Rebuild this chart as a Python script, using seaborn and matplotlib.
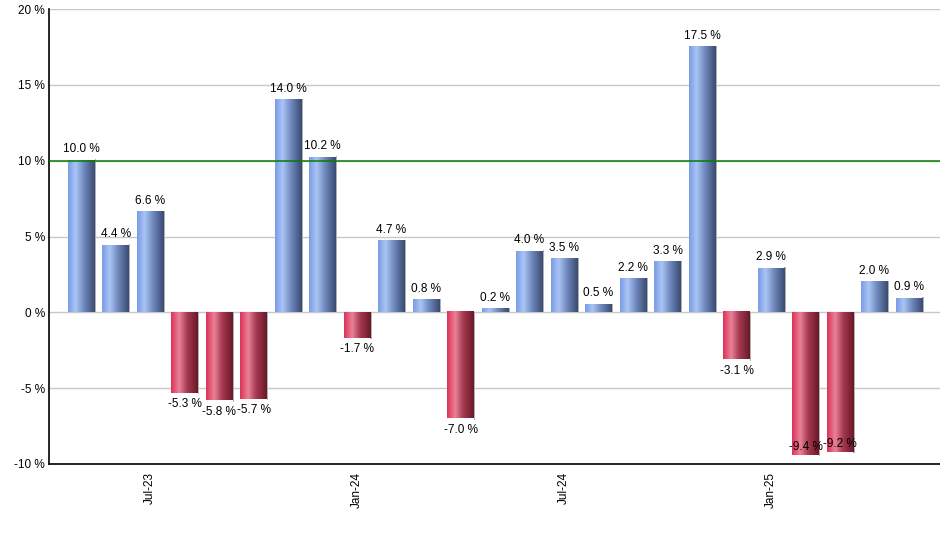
import numpy as np
import pandas as pd
import matplotlib
matplotlib.use("Agg")
import matplotlib.pyplot as plt
import seaborn as sns
from matplotlib.colors import LinearSegmentedColormap

months = ["May-23", "Jun-23", "Jul-23", "Aug-23", "Sep-23", "Oct-23", "Nov-23", "Dec-23",
          "Jan-24", "Feb-24", "Mar-24", "Apr-24", "May-24", "Jun-24", "Jul-24", "Aug-24",
          "Sep-24", "Oct-24", "Nov-24", "Dec-24", "Jan-25", "Feb-25", "Mar-25", "Apr-25",
          "May-25"]
returns = [10.0, 4.4, 6.6, -5.3, -5.8, -5.7, 14.0, 10.2, -1.7, 4.7, 0.8, -7.0, 0.2,
           4.0, 3.5, 0.5, 2.2, 3.3, 17.5, -3.1, 2.9, -9.4, -9.2, 2.0, 0.9]
tick_months = ["Jul-23", "Jan-24", "Jul-24", "Jan-25"]
target = 10.0

df = pd.DataFrame({"month": months, "ret": returns})

sns.set_style("white")
plt.rcParams['font.family'] = ['Liberation Sans', 'DejaVu Sans']
plt.rcParams['text.color'] = 'black'
plt.rcParams['xtick.color'] = 'black'
plt.rcParams['ytick.color'] = 'black'

fig = plt.figure(figsize=(9.4, 5.5), dpi=100)
ax = fig.add_axes([49/940, 1-464/550, 1-49/940, (464-9)/550])

sns.barplot(data=df, x="month", y="ret", order=months, width=0.78, ax=ax,
            color="#8aa8ee", saturation=1)

blue = LinearSegmentedColormap.from_list("b", [(0, "#7a9ce6"), (0.28, "#aac5f5"),
                                               (0.6, "#6f88bd"), (1, "#394b70")])
red = LinearSegmentedColormap.from_list("r", [(0, "#de3157"), (0.3, "#ea8298"),
                                              (0.6, "#a63a52"), (1, "#6a1828")])
grad = np.linspace(0, 1, 64).reshape(1, -1)

for patch, v in zip(ax.patches, returns):
    x0 = patch.get_x()
    w = patch.get_width()
    h = patch.get_height()
    patch.set_facecolor("none")
    patch.set_edgecolor("none")
    y0, y1 = min(0, h), max(0, h)
    # small shadow on right side
    ax.add_patch(plt.Rectangle((x0 + w, y0 - (0.08 if h < 0 else 0)), 0.04,
                               (y1 - y0) + 0.08, color="#b0b0b0", zorder=2, lw=0))
    ax.imshow(grad, cmap=blue if v >= 0 else red, aspect="auto",
              extent=(x0, x0 + w, y0, y1), zorder=3, interpolation="bicubic")
    if v >= 0:
        ax.text(x0 + w/2, y1 + 0.35, f"{v:.1f} %", ha="center", va="bottom",
                fontsize=8.5, zorder=5)
    elif v > -8.5:
        ax.text(x0 + w/2, y0 - 0.35, f"{v:.1f} %", ha="center", va="top",
                fontsize=8.5, zorder=5)
    else:
        # no room below the bar: label sits just inside its end
        ax.text(x0 + w/2, y0 + 0.15, f"{v:.1f} %", ha="center", va="bottom",
                fontsize=8.5, zorder=5)

ax.axhline(target, color="#008000", lw=1.1, zorder=4)

ax.set_xlim(-0.93, len(months) - 0.1)
ax.set_ylim(-10, 20)
ax.set_yticks(np.arange(-10, 21, 5))
ax.set_yticklabels([f"{t} %" for t in range(-10, 21, 5)], fontsize=8.5)
ax.yaxis.grid(True, color="#c8c8c8", lw=1)
ax.set_axisbelow(True)

ax.set_xticks([months.index(m) for m in tick_months])
ax.set_xticklabels(tick_months, rotation=90, fontsize=8.5)
ax.tick_params(axis="x", length=4, width=1, direction="out", pad=1.5)
ax.tick_params(axis="y", length=0, pad=3)
ax.set_xlabel("")
ax.set_ylabel("")

for s in ["top", "right"]:
    ax.spines[s].set_visible(False)
for s in ["left", "bottom"]:
    ax.spines[s].set_color("black")
    ax.spines[s].set_linewidth(1.2)

fig.savefig("out.png", dpi=100)
